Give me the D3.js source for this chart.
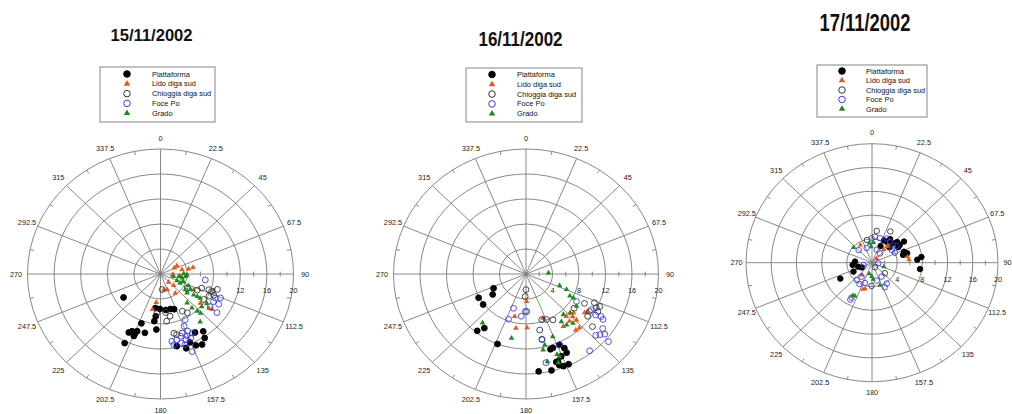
<!DOCTYPE html>
<html>
<head>
<meta charset="utf-8">
<script src="https://cdn.jsdelivr.net/npm/d3@7"></script>
<style>
  body { margin: 0; background: #fff; }
  svg { display: block; font-family: Arial, "Liberation Sans", sans-serif; }
</style>
</head>
<body>
<svg id="chart" width="1012" height="414"></svg>
<script>
// station names and dates
const dates = ["15/11/2002", "16/11/2002", "17/11/2002"];
const stations = ["Piattaforma", "Lido diga sud", "Chioggia diga sud", "Foce Po", "Grado"];
const ringTicks = [4, 8, 12, 16, 20];
const angleTicks = [0, 22.5, 45, 67.5, 90, 112.5, 135, 157.5, 180, 202.5, 225, 247.5, 270, 292.5, 315, 337.5];
const minorAngles = [11.25, 33.75, 56.25, 78.75, 101.25, 123.75, 146.25, 168.75, 191.25, 213.75, 236.25, 258.75, 281.25, 303.75, 326.25, 348.75];
const minorRadii = [2, 6, 10, 14, 18];

// [direction (deg), speed]
const piatt15 = [[236,6.7],[188,5.5],[181,5.6],[172,5.8],[165,5.8],[160,6.0],[186,6.8],[200,8.4],[187,7.6],[205,10.1],[207,10.5],[202,10.3],[201,9.8],[202,10.7],[194,9.7],[184,8.9],[206,12.3],[151,10.7],[145,11.2],[147,12.2],[158,11.8],[162,12.5],[155,12.6],[151,12.9],[168,11.8]];
const lido15 = [[65,2.3],[62,2.8],[78,3.3],[79,4.3],[78,5.0],[94,1.8],[97,3.0],[137,1.8],[133,2.7],[158,2.7],[144,3.8],[169,2.6],[188,4.6],[192,5.8],[127,9.1],[126,9.6],[128,7.6],[117,5.6]];
const chiog15 = [[174,2.5],[119,4.6],[115,6.1],[110,6.6],[109,7.7],[110,8.2],[106,8.9],[113,8.7],[116,8.1],[122,7.7],[173,6.2],[168,6.9],[151,6.8],[147,7.4],[168,9.7],[166,10.0],[161,10.0],[173,7.6],[185,6.3]];
const foce15 = [[98,6.8],[115,9.1],[113,9.8],[119,10.0],[126,10.5],[125,9.1],[119,9.1],[153,8.2],[157,9.1],[156,10.0],[163,10.4],[167,10.8],[171,10.9],[170,11.5],[160,11.2],[158,10.7],[153,10.6],[156,11.2],[164,11.5],[162,11.9],[159,13.3]];
const grado15 = [[101,2.0],[98,2.8],[101,3.3],[89,3.5],[96,3.8],[92,4.0],[109,3.6],[113,2.7],[116,3.3],[114,4.6],[127,5.0],[119,5.2],[124,6.0],[123,6.6],[123,7.1],[130,8.1],[137,8.1],[136,8.7],[139,7.2],[139,6.1],[142,9.7],[124,8.4],[124,4.5]];

const piatt16 = [[245,5.4],[237,6.0],[242,8.1],[233,8.1],[216,10.7],[219,11.7],[201,12.0],[173,15.7],[166,15.9],[161,15.4],[159,15.8],[156,15.8],[161,14.8],[158,14.2],[154,14.0],[154,13.2],[161,12.5],[163,12.6],[156,12.4],[162,14.8]];
const lido16 = [[194,7.0],[190,8.8],[179,4.4],[179,8.6],[160,7.5],[146,10.1],[138,9.1],[139,10.0],[134,9.8],[134,10.6],[137,11.8],[125,10.8],[123,11.1],[131,9.5],[140,11.7]];
const chiog16 = [[180,2.5],[182,3.6],[179,6.0],[162,7.7],[157,7.9],[151,8.4],[167,9.2],[167,10.7],[127,9.1],[118,10.0],[114,11.3],[117,11.9],[122,11.3],[119,12.4],[126,11.5],[130,13.1],[115,12.3]];
const foce16 = [[200,7.7],[199,5.8],[186,6.8],[181,6.0],[120,8.8],[120,11.4],[122,12.4],[121,13.2],[127,14.5],[133,14.4],[131,14.8],[129,15.3],[131,16.5],[142,15.6],[168,14.5],[167,10.8],[156,12.4],[122,13.7]];
const grado16 = [[87,3.4],[110,5.4],[112,6.6],[118,7.5],[118,8.1],[124,9.2],[133,9.1],[139,8.6],[145,9.3],[143,10.2],[138,10.6],[158,10.8],[166,11.7],[168,12.4],[167,14.4],[161,15.0],[159,14.1],[192,10.5],[220,10.2],[160,13.7]];

const piatt17 = [[27,4.2],[36,4.2],[36,4.9],[46,4.7],[49,5.3],[56,5.3],[55,6.2],[70,5.4],[74,5.8],[75,5.1],[86,7.2],[83,7.9],[98,7.7],[274,2.7],[263,3.1],[243,3.3],[253,2.3],[242,5.7],[26,3.1],[47,3.8],[58,4.9],[244,1.8]];
const lido17 = [[41,3.6],[40,2.9],[41,3.9],[80,5.7],[85,5.9],[218,2.6],[194,4.5],[198,4.7],[328,3.5],[45,1.0]];
const chiog17 = [[8,5.4],[6,4.4],[29,6.0],[181,3.9],[149,0.9],[348,3.9],[131,2.7]];
const foce17 = [[359,4.1],[17,4.3],[56,3.8],[65,4.0],[54,4.8],[39,4.5],[19,2.3],[39,2.0],[341,2.6],[315,3.0],[215,2.9],[220,3.8],[209,4.1],[209,6.7],[209,7.1],[198,3.6],[166,3.1],[147,2.8],[154,4.6],[146,4.2],[254,1.4],[96,1.0],[30,4.7]];
const grado17 = [[311,3.9],[353,3.3],[357,2.7],[4,3.4],[193,1.9],[181,2.3],[176,2.8],[110,2.0],[206,6.2],[209,6.3],[162,4.0]];

// marker styles per station
const styles = [
  { shape: d3.symbolCircle, fill: "#000", stroke: "#000" },
  { shape: d3.symbolTriangle, fill: "#e8571e", stroke: "none" },
  { shape: d3.symbolCircle, fill: "none", stroke: "#333" },
  { shape: d3.symbolCircle, fill: "none", stroke: "#3d3de0" },
  { shape: d3.symbolTriangle, fill: "#1e8a22", stroke: "none" }
];

const panels = [
  { date: dates[0], cx: 160.5, cy: 274, rx: 133, ry: 125, mk: 0.9, lab: 11.5,
    title: { x: 151.5, y: 41, size: 16.6, sy: 1.03 },
    legend: { x: 100, y: 67, w: 115, h: 55, mx: 27, tx: 52, r0: 7, dy: 9.8 },
    series: [piatt15, lido15, chiog15, foce15, grado15] },
  { date: dates[1], cx: 526, cy: 274, rx: 132.5, ry: 125, mk: 0.9, lab: 11.5,
    title: { x: 520.5, y: 46, size: 17, sy: 1.2 },
    legend: { x: 466, y: 68, w: 116, h: 54, mx: 26, tx: 51, r0: 6.5, dy: 9.8 },
    series: [piatt16, lido16, chiog16, foce16, grado16] },
  { date: dates[2], cx: 872, cy: 262.7, rx: 126, ry: 119, mk: 0.8, lab: 9.5,
    title: { x: 865, y: 31, size: 18.4, sy: 1.33 },
    legend: { x: 817, y: 65, w: 110, h: 52, mx: 25, tx: 49, r0: 6, dy: 9.5 },
    series: [piatt17, lido17, chiog17, foce17, grado17] }
];

const svg = d3.select("#chart");
const rad = d => d * Math.PI / 180;

panels.forEach(p => {
  const g = svg.append("g");
  const sx = d3.scaleLinear().domain([0, 20]).range([0, p.rx]);
  const sy = d3.scaleLinear().domain([0, 20]).range([0, p.ry]);
  const px = (dir, s) => p.cx + sx(s) * Math.sin(rad(dir));
  const py = (dir, s) => p.cy - sy(s) * Math.cos(rad(dir));

  // title
  g.append("text")
    .attr("transform", `translate(${p.title.x},${p.title.y}) scale(1,${p.title.sy})`)
    .attr("text-anchor", "middle")
    .attr("font-weight", "bold")
    .attr("font-size", p.title.size)
    .attr("fill", "#111")
    .text(p.date);

  // rings
  g.selectAll(".ring").data(ringTicks).enter().append("ellipse")
    .attr("cx", p.cx).attr("cy", p.cy)
    .attr("rx", d => sx(d)).attr("ry", d => sy(d))
    .attr("fill", "none").attr("stroke", "#7a7a7a").attr("stroke-width", 0.9);

  // spokes
  g.selectAll(".spoke").data(angleTicks).enter().append("line")
    .attr("x1", p.cx).attr("y1", p.cy)
    .attr("x2", d => px(d, 20)).attr("y2", d => py(d, 20))
    .attr("stroke", "#7a7a7a").attr("stroke-width", 0.9);

  // minor ticks on the outer ring
  g.selectAll(".mtick").data(minorAngles).enter().append("line")
    .attr("x1", d => px(d, 20)).attr("y1", d => py(d, 20))
    .attr("x2", d => px(d, 19.4)).attr("y2", d => py(d, 19.4))
    .attr("stroke", "#7a7a7a").attr("stroke-width", 0.9);

  // minor ticks on the radial axis
  g.selectAll(".rtick").data(minorRadii).enter().append("line")
    .attr("x1", d => px(90, d)).attr("x2", d => px(90, d))
    .attr("y1", p.cy - 2.5).attr("y2", p.cy + 2.5)
    .attr("stroke", "#7a7a7a").attr("stroke-width", 0.9);

  // ring labels
  g.selectAll(".rlab").data(ringTicks).enter().append("text")
    .attr("x", d => px(90, d)).attr("y", p.cy + 19)
    .attr("text-anchor", "middle")
    .attr("font-size", 7.3).attr("fill", "#222")
    .text(d => d);

  // angle labels
  g.selectAll(".alab").data(angleTicks).enter().append("text")
    .attr("x", d => p.cx + (p.rx + p.lab) * Math.sin(rad(d)))
    .attr("y", d => p.cy - (p.ry + 11) * Math.cos(rad(d)))
    .attr("dy", "0.35em")
    .attr("text-anchor", "middle")
    .attr("font-size", 7.3).attr("fill", "#222")
    .text(d => d);

  // points
  p.series.forEach((data, i) => {
    const st = styles[i];
    const size = (st.shape === d3.symbolTriangle ? 15 : 30) * p.mk;
    g.selectAll(".pt" + i).data(data).enter().append("path")
      .attr("d", d3.symbol().type(st.shape).size(size))
      .attr("transform", d => `translate(${px(d[0], d[1])},${py(d[0], d[1])})`)
      .attr("fill", st.fill)
      .attr("stroke", st.stroke)
      .attr("stroke-width", 0.9);
  });

  // legend
  const L = p.legend;
  const lg = g.append("g").attr("transform", `translate(${L.x},${L.y})`);
  lg.append("rect").attr("width", L.w).attr("height", L.h)
    .attr("fill", "#fff").attr("stroke", "#777").attr("stroke-width", 0.9);
  stations.forEach((name, i) => {
    const st = styles[i];
    const y = L.r0 + i * L.dy;
    lg.append("path")
      .attr("d", d3.symbol().type(st.shape).size(st.shape === d3.symbolTriangle ? 18 : 34))
      .attr("transform", `translate(${L.mx},${y})`)
      .attr("fill", st.fill).attr("stroke", st.stroke).attr("stroke-width", 1);
    lg.append("text")
      .attr("x", L.tx).attr("y", y).attr("dy", "0.35em")
      .attr("font-size", 7.4).attr("fill", "#111")
      .text(name);
  });
});
</script>
</body>
</html>
